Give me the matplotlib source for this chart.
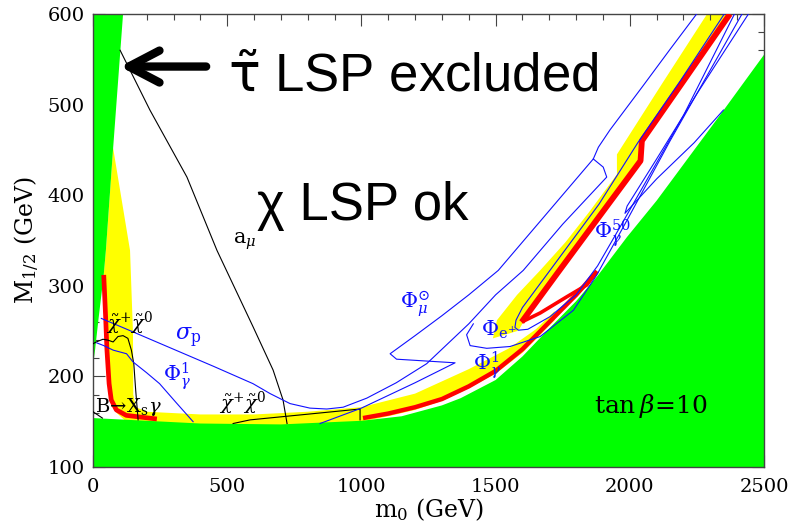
import matplotlib
matplotlib.use("Agg")
import matplotlib.pyplot as plt
from matplotlib.patches import FancyArrowPatch, ArrowStyle
from matplotlib.ticker import MultipleLocator

# ------------------------------------------------------
# Values (m0, M1/2 in GeV)
# ------------------------------------------------------
green_left_m0 = [0, 112, 75, 48, 40, 20, 8, 0]
green_left_m12 = [600, 600, 452, 339, 312, 262, 230, 212]

green_bottom_m0 = [0, 0, 200, 400, 700, 1000, 1150, 1300, 1370, 1500, 1600,
                   1700, 1800, 1880, 1990, 2100, 2350, 2500, 2500]
green_bottom_m12 = [100, 154, 151, 148, 147, 151, 156, 168, 176, 196, 222,
                    253, 283, 311, 354, 394, 494, 555, 100]

yellow_low_m0 = [75, 138, 149, 150, 160, 200, 400, 600, 800, 1000, 1200, 1400,
                 1550, 1650, 1720, 1720, 1600, 1500, 1400, 1300, 1200, 1100,
                 1000, 500, 200, 124, 87, 68, 60, 52, 47, 40, 48]
yellow_low_m12 = [452, 339, 248, 180, 166, 161, 158, 158, 161, 166, 181, 208,
                  231, 252, 272, 262, 226, 203, 187, 173, 163, 156,
                  150, 140, 140, 150, 160, 174, 192, 229, 266, 312, 339]

yellow_up_m0 = [1490, 1505, 1580, 1666, 1760, 1850, 1952, 1952, 2120, 2288,
                2380, 2206, 2050, 2046, 1906, 1734, 1603, 1590, 1580]
yellow_up_m12 = [242, 262, 290, 317, 348, 382, 423, 445, 523, 600,
                 600, 526, 460, 438, 382, 313, 260, 253, 250]

red_left_m0 = [40, 47, 52, 60, 68, 87, 124, 180, 238]
red_left_m12 = [312, 266, 229, 192, 174, 163, 157, 155, 153]
red_lower_m0 = [1006, 1100, 1200, 1300, 1400, 1500, 1600, 1700, 1800, 1878]
red_lower_m12 = [154, 159, 166, 175, 189, 206, 230, 260, 290, 316]
red_arm_up_m0 = [1597, 1728, 1900, 2040, 2045, 2200, 2373]
red_arm_up_m12 = [260, 313, 382, 438, 460, 526, 600]
red_arm_low_m0 = [1597, 1666, 1766, 1840, 1878]
red_arm_low_m12 = [260, 270, 288, 301, 316]

# black lines
amu_m0 = [101, 212, 350, 462, 596, 671, 708, 723]
amu_m12 = [560, 494, 420, 339, 255, 207, 174, 148]
chi_left_m0 = [0, 12, 37, 56, 75, 93, 112, 130, 143, 152, 159, 165, 168]
chi_left_m12 = [236, 238, 241, 240, 238, 244, 245, 242, 229, 214, 185, 163, 152]
chi_right_m0 = [522, 585, 995, 995]
chi_right_m12 = [148, 152, 164, 152]
bsg_m0 = [0, 35]
bsg_m12 = [161, 154]

# blue contours
sigp_m0 = [31, 150, 300, 450, 596, 660, 734, 808, 871, 932, 1020, 1130, 1243,
           1400, 1500, 1603, 1750, 1914, 1901, 1864]
sigp_m12 = [264, 249, 230, 211, 192, 181, 170, 165, 164, 166, 176, 193, 214,
            258, 290, 317, 368, 420, 431, 440]
phimu_m0 = [846, 1000, 1200, 1349, 1131, 1107, 1200, 1300, 1400, 1510, 1700,
            1864, 1883, 1926, 2050, 2150, 2249]
phimu_m12 = [148, 165, 193, 215, 219, 225, 245, 267, 290, 317, 383,
             440, 453, 472, 521, 561, 600]
phig1_m0 = [14, 40, 75, 125, 149, 200, 248, 310, 373]
phig1_m12 = [237, 234, 229, 225, 216, 204, 192, 171, 150]
phie_out_m0 = [1417, 1392, 1405, 1467, 1554, 1666, 1790, 1877, 1989, 2150, 2336, 2418]
phie_out_m12 = [258, 246, 234, 231, 233, 244, 273, 312, 372, 460, 557, 600]
phie_in_m0 = [2352, 2190, 2030, 1885, 1715, 1600, 1576, 1572, 1585, 1620, 1703,
              1800, 1880, 1960, 2060, 2200, 2390]
phie_in_m12 = [600, 527, 458, 390, 322, 276, 262, 254, 251, 252, 266,
               290, 322, 363, 415, 488, 600]
phig50_m0 = [2349, 2240, 2100, 1982, 1990, 2100, 2250, 2442]
phig50_m12 = [494, 458, 418, 380, 388, 440, 512, 600]

GREEN = "#00ff00"
YELLOW = "#ffff00"
RED = "#ff0000"
BLUE = "#1010ff"

plt.rcParams["font.family"] = ["DejaVu Serif"]
plt.rcParams["mathtext.fontset"] = "dejavuserif"

fig = plt.figure(figsize=(7.95, 5.27), dpi=100)
ax = fig.add_axes([93 / 795, 1 - 467 / 527, 671 / 795, 453 / 527])

# filled regions
ax.fill(yellow_low_m0, yellow_low_m12, color=YELLOW, lw=0, zorder=1)
ax.fill(yellow_up_m0, yellow_up_m12, color=YELLOW, lw=0, zorder=1)
ax.fill(green_left_m0, green_left_m12, color=GREEN, lw=0, zorder=2)
ax.fill(green_bottom_m0, green_bottom_m12, color=GREEN, lw=0, zorder=2)

# relic density lines
ax.plot(red_left_m0, red_left_m12, color=RED, lw=3.4, solid_capstyle="butt", zorder=3)
ax.plot(red_lower_m0, red_lower_m12, color=RED, lw=3.2, solid_capstyle="butt", zorder=3)
ax.plot(red_arm_up_m0, red_arm_up_m12, color=RED, lw=4.2, solid_capstyle="butt", zorder=3)
ax.plot(red_arm_low_m0, red_arm_low_m12, color=RED, lw=2.6, solid_capstyle="butt", zorder=3)

# constraint lines
for xs, ys in [(amu_m0, amu_m12), (chi_left_m0, chi_left_m12),
               (chi_right_m0, chi_right_m12), (bsg_m0, bsg_m12)]:
    ax.plot(xs, ys, color="black", lw=0.8, zorder=4)
for xs, ys in [(sigp_m0, sigp_m12), (phimu_m0, phimu_m12), (phig1_m0, phig1_m12),
               (phie_out_m0, phie_out_m12), (phie_in_m0, phie_in_m12),
               (phig50_m0, phig50_m12)]:
    ax.plot(xs, ys, color=BLUE, lw=0.8, zorder=4)

# curve labels
ax.text(520, 346, r"$\mathrm{a}_{\mu}$", fontsize=15, zorder=5)
ax.text(134, 258, r"$\tilde{\chi}^{+}\tilde{\chi}^{0}$", fontsize=14, ha="center", va="center", zorder=5)
ax.text(557, 170, r"$\tilde{\chi}^{+}\tilde{\chi}^{0}$", fontsize=14, ha="center", va="center", zorder=5)
ax.text(132, 166, r"$\mathrm{B}\!\rightarrow\!\mathrm{X_s}\gamma$", fontsize=14, ha="center", va="center", zorder=5)
ax.text(355, 242, r"$\sigma_{\mathrm{p}}$", fontsize=16, color=BLUE, ha="center", va="center", zorder=5)
ax.text(312, 200, r"$\Phi_{\gamma}^{1}$", fontsize=15, color=BLUE, ha="center", va="center", zorder=5)
ax.text(1200, 280, r"$\Phi_{\mu}^{\odot}$", fontsize=15, color=BLUE, ha="center", va="center", zorder=5)
ax.text(1512, 251, r"$\Phi_{\mathrm{e}^{+}}$", fontsize=15, color=BLUE, ha="center", va="center", zorder=5)
ax.text(1468, 212, r"$\Phi_{\gamma}^{1}$", fontsize=15, color=BLUE, ha="center", va="center", zorder=5)
ax.text(1935, 358, r"$\Phi_{\gamma}^{50}$", fontsize=15, color=BLUE, ha="center", va="center", zorder=5)
ax.text(2080, 167, r"$\tan\beta\!=\!10$", fontsize=18, ha="center", va="center", zorder=5)

# big annotations
ax.text(503, 514, r"$\tilde{\mathrm{\tau}}$ LSP excluded", fontsize=38, family="Liberation Sans",
        math_fontfamily="dejavusans", ha="left", va="baseline", zorder=6)
ax.text(612, 373, "\u03c7 LSP ok", fontsize=38, family="Liberation Sans",
        ha="left", va="baseline", zorder=6)
arrow = FancyArrowPatch((432, 542), (90, 542),
                        arrowstyle=ArrowStyle("->", head_length=2.2, head_width=1.15),
                        mutation_scale=10, lw=6, color="black", capstyle="round",
                        joinstyle="round", zorder=6)
ax.add_patch(arrow)

ax.set_xlim(0, 2500)
ax.set_ylim(100, 600)
ax.xaxis.set_major_locator(MultipleLocator(500))
ax.xaxis.set_minor_locator(MultipleLocator(100))
ax.yaxis.set_major_locator(MultipleLocator(100))
ax.yaxis.set_minor_locator(MultipleLocator(20))
ax.tick_params(which="both", direction="in", top=True, right=True, color="#444444",
               labelsize=14)
ax.tick_params(which="major", length=8.5, width=0.8)
ax.tick_params(which="minor", length=4, width=0.8)
ax.tick_params(axis="x", pad=8)
ax.tick_params(axis="y", pad=6)
for s in ax.spines.values():
    s.set_color("#444444")
    s.set_linewidth(1.0)

ax.set_xlabel(r"$\mathrm{m_0}$ (GeV)", fontsize=17, labelpad=0)
ax.set_ylabel(r"$\mathrm{M_{1/2}}$ (GeV)", fontsize=17, labelpad=4)

fig.savefig("out.png", dpi=100)
